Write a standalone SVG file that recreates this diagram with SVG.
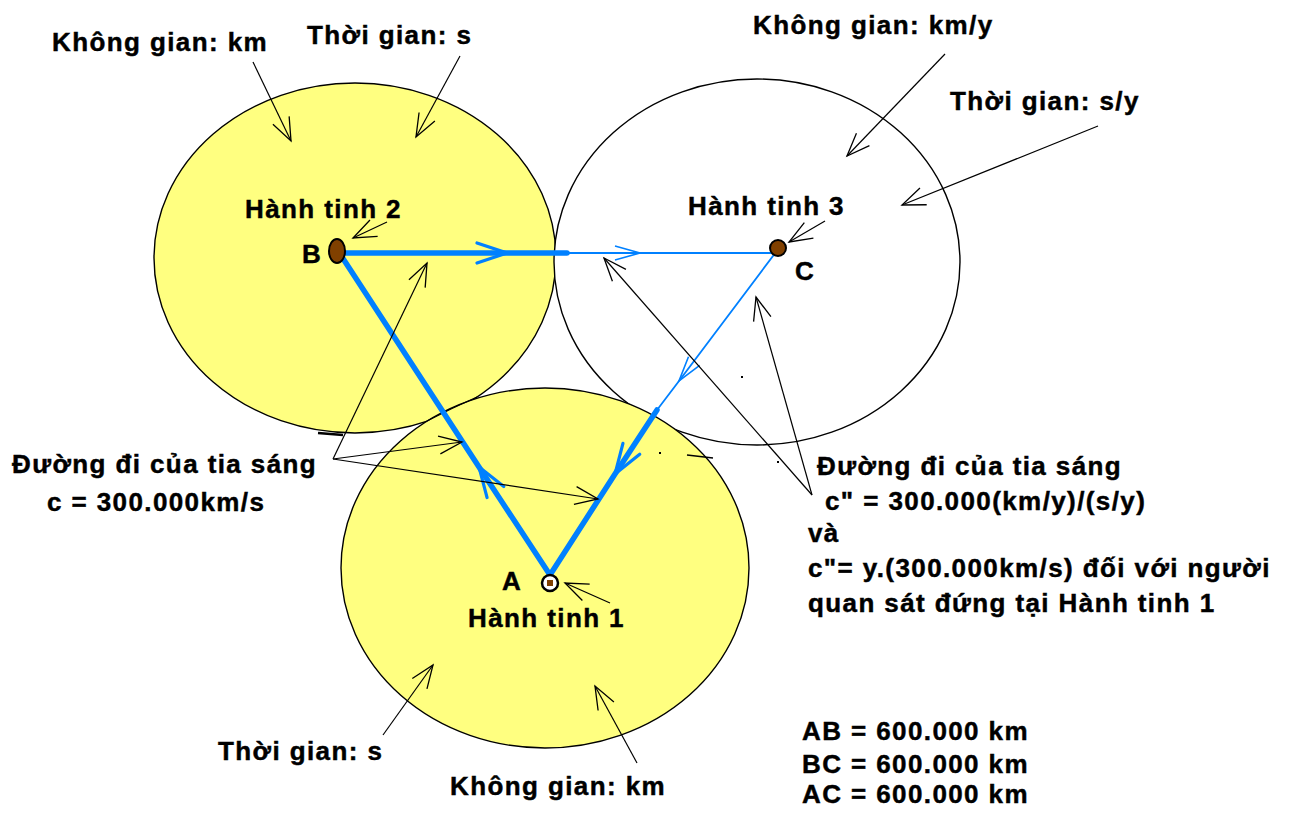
<svg xmlns="http://www.w3.org/2000/svg" width="1298" height="817" viewBox="0 0 1298 817">
<style>
.t{font-family:"Liberation Sans",Arial,sans-serif;font-weight:bold;font-size:26px;letter-spacing:1.4px;fill:#000;stroke:#000;stroke-width:0.45}
.orb{stroke:#000;stroke-width:1.4}
.yel{fill:#FFFF80}
.wht{fill:#FFFFFF}
.ptr{fill:none;stroke:#000;stroke-width:1.2;marker-end:url(#mPtr)}
.thick{fill:none;stroke:#0080FF;stroke-width:5.5;stroke-linecap:round;stroke-linejoin:round}
.thin{fill:none;stroke:#0080FF;stroke-width:1.8}
.dot{fill:#804000;stroke:#000;stroke-width:2}
</style>
<defs>
<marker id="mPtr" markerUnits="userSpaceOnUse" viewBox="-30 -15 34 30" markerWidth="34" markerHeight="30" refX="0" refY="0" orient="auto" overflow="visible">
<path d="M-23,-9 L0,0 L-23,9" fill="none" stroke="#000" stroke-width="1.3"/>
</marker>
<marker id="mBig" markerUnits="userSpaceOnUse" viewBox="-34 -15 38 30" markerWidth="38" markerHeight="30" refX="0" refY="0" orient="auto" overflow="visible">
<path d="M-30,-10 L0,0 L-30,10" fill="none" stroke="#0080FF" stroke-width="3.2" stroke-linecap="round"/>
</marker>
<marker id="mSmall" markerUnits="userSpaceOnUse" viewBox="-30 -12 34 24" markerWidth="34" markerHeight="24" refX="0" refY="0" orient="auto" overflow="visible">
<path d="M-25,-7 L0,0 L-25,7" fill="none" stroke="#0080FF" stroke-width="1.6"/>
</marker>
</defs>
<rect width="1298" height="817" fill="#FFFFFF"/>

<g id="planet2-region">
<ellipse class="orb yel" cx="355" cy="258" rx="201" ry="175"/>
</g>
<g id="planet3-region">
<ellipse class="orb wht" cx="757" cy="262" rx="203" ry="183"/>
</g>
<g id="planet1-region">
<ellipse class="orb yel" cx="545" cy="568" rx="204" ry="180"/>
<path d="M427,421 Q452,408 477,397" fill="none" stroke="#000" stroke-width="1.2"/>
<line x1="318" y1="433" x2="343" y2="435" stroke="#000" stroke-width="2.5"/>
</g>

<g id="connectors">
<path class="thick" d="M345,253 L507,253 L567,253" style="marker-mid:url(#mBig)"/>
<path class="thin" d="M567,253 L640,253 L775,253" style="marker-mid:url(#mSmall)"/>
<path class="thick" d="M550,575 L479,467 L342,257" style="marker-mid:url(#mBig)"/>
<path class="thick" d="M657,410 L615,474 L550,575" style="marker-mid:url(#mBig)"/>
<path class="thin" d="M776,252 L679,381 L657,410" style="marker-mid:url(#mSmall)"/>
<line class="ptr" x1="253" y1="62" x2="291" y2="141"/>
<line class="ptr" x1="460" y1="56" x2="416" y2="137"/>
<line class="ptr" x1="945" y1="54" x2="847" y2="156"/>
<line class="ptr" x1="1098" y1="126" x2="902" y2="205"/>
<line class="ptr" x1="387" y1="222" x2="353" y2="238"/>
<line class="ptr" x1="825" y1="221" x2="789" y2="242"/>
<line class="ptr" x1="610" y1="603" x2="565" y2="583"/>
<line class="ptr" x1="333" y1="459" x2="427" y2="263"/>
<line class="ptr" x1="333" y1="459" x2="462" y2="442"/>
<line class="ptr" x1="333" y1="459" x2="598" y2="499"/>
<line class="ptr" x1="812" y1="495" x2="604" y2="258"/>
<line class="ptr" x1="812" y1="495" x2="756" y2="297"/>
<line class="ptr" x1="383" y1="735" x2="433" y2="665"/>
<line class="ptr" x1="637" y1="763" x2="595" y2="686"/>
<line x1="687" y1="455" x2="713" y2="458" stroke="#000" stroke-width="1.5"/>
<rect x="741" y="376" width="2" height="2" fill="#000"/>
<rect x="659" y="452" width="2" height="2" fill="#000"/>
<rect x="777" y="461" width="2" height="2" fill="#000"/>
</g>

<g id="planet2">
<ellipse class="dot" cx="337" cy="251" rx="8" ry="12"/>
<text class="t" x="245" y="218">Hành tinh 2</text>
<text class="t" x="302" y="263">B</text>
</g>
<g id="planet3">
<circle class="dot" cx="778" cy="248" r="8"/>
<text class="t" x="688" y="215">Hành tinh 3</text>
<text class="t" x="795" y="280">C</text>
</g>
<g id="planet1">
<circle cx="550" cy="583" r="8" fill="#FFFFFF" stroke="#000" stroke-width="2.5"/>
<rect x="547" y="580" width="6" height="6" fill="#804000"/>
<text class="t" x="502" y="590">A</text>
<text class="t" x="468" y="627">Hành tinh 1</text>
</g>

<g id="labels">
<text class="t" x="52" y="51">Không gian: km</text>
<text class="t" x="307" y="44">Thời gian: s</text>
<text class="t" x="753" y="34">Không gian: km/y</text>
<text class="t" x="950" y="110">Thời gian: s/y</text>
<text class="t" x="12" y="473">Đường đi của tia sáng</text>
<text class="t" x="47" y="511">c = 300.000km/s</text>
<text class="t" x="817" y="475">Đường đi của tia sáng</text>
<text class="t" x="825" y="510">c" = 300.000(km/y)/(s/y)</text>
<text class="t" x="808" y="542">và</text>
<text class="t" x="808" y="577">c"= y.(300.000km/s) đối với người</text>
<text class="t" x="808" y="612">quan sát đứng tại Hành tinh 1</text>
<text class="t" x="218" y="760">Thời gian: s</text>
<text class="t" x="450" y="795">Không gian: km</text>
<text class="t" x="802" y="740">AB = 600.000 km</text>
<text class="t" x="802" y="773">BC = 600.000 km</text>
<text class="t" x="802" y="803">AC = 600.000 km</text>
</g>
</svg>
